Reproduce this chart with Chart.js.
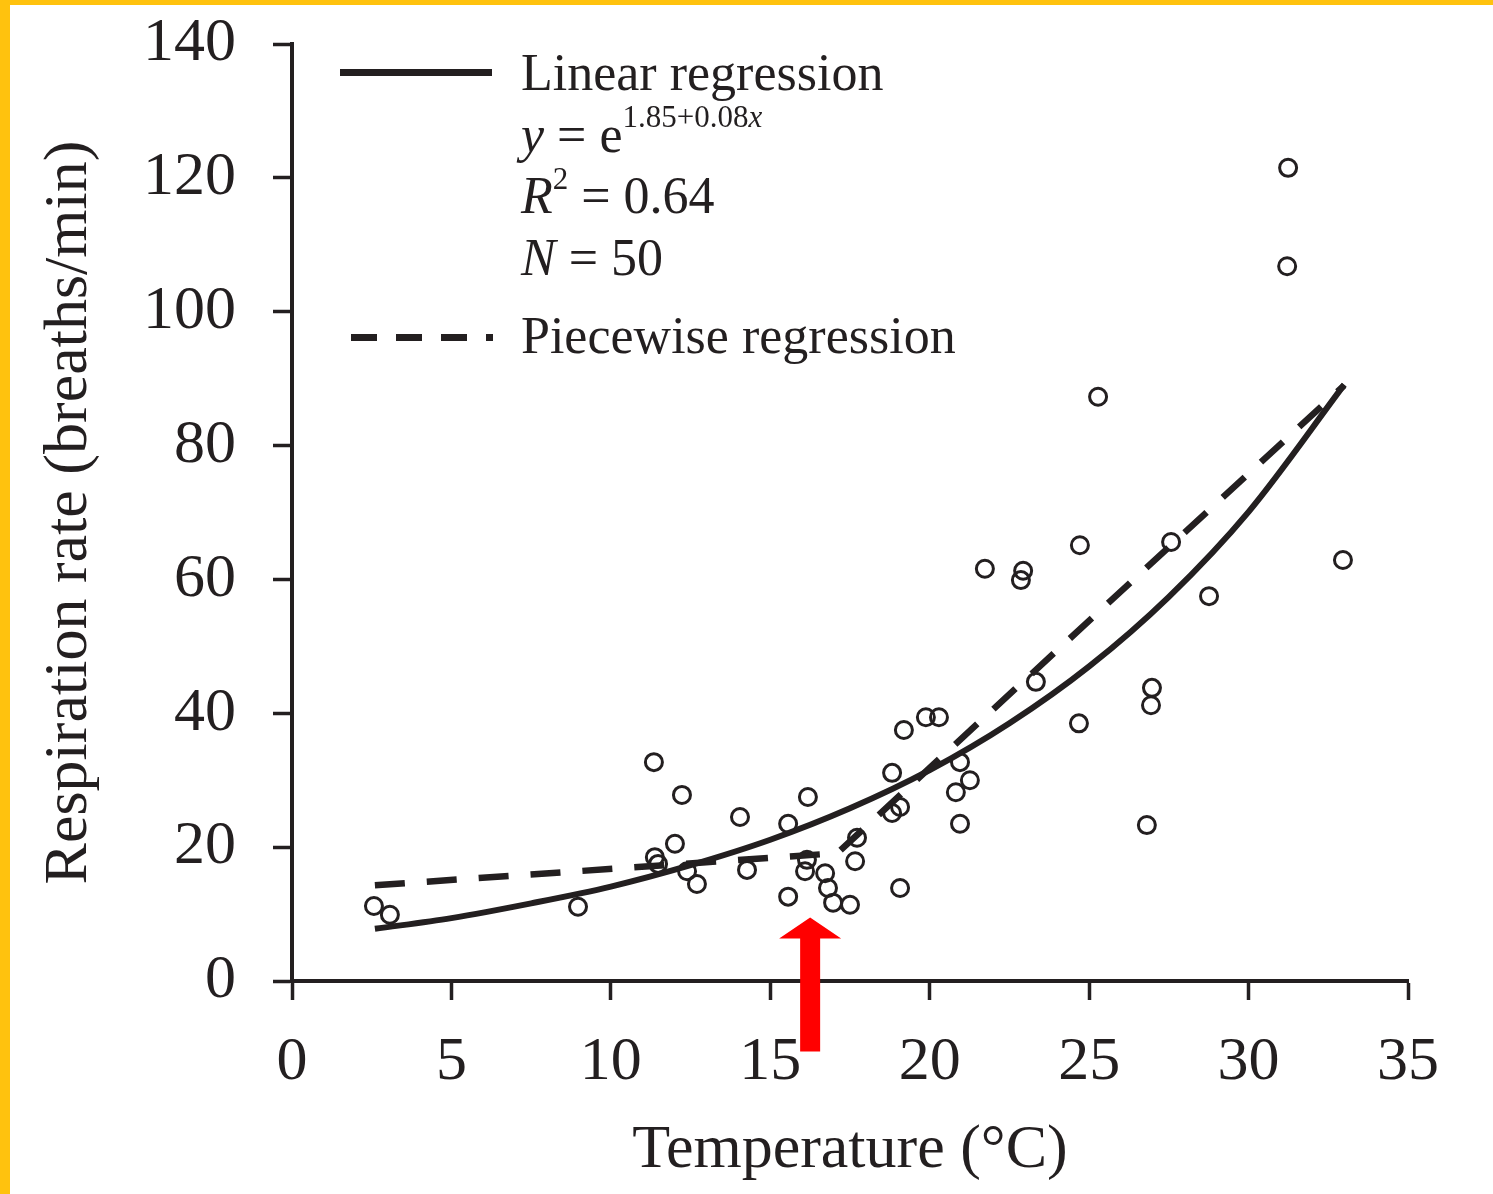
<!DOCTYPE html>
<html>
<head>
<meta charset="utf-8">
<title>Respiration rate vs temperature</title>
<script src="https://cdn.jsdelivr.net/npm/chart.js@4.4.1/dist/chart.umd.min.js"></script>
<style>
  html, body { margin: 0; padding: 0; background: #fff; }
  #wrap { position: relative; width: 1493px; height: 1194px; overflow: hidden; background: #fff; }
  .frameTop { position: absolute; left: 0; top: 0; width: 1493px; height: 5px; background: #FFC20E; }
  .frameLeft { position: absolute; left: 0; top: 0; width: 10px; height: 1194px; background: #FFC20E; }
  #grafico { position: absolute; left: 0; top: 0; }
  .leg { position: absolute; left: 521px; font-family: 'Liberation Serif', 'Times New Roman', serif;
         font-size: 52px; line-height: 1; color: #231f20; white-space: nowrap; }
  .sup { font-size: 31px; position: relative; top: -25px; }
  .sampleSolid { position: absolute; left: 340px; top: 69px; width: 152px; height: 7px; background: #231f20; }
  .sampleDash { position: absolute; left: 351px; top: 334px; width: 142px; height: 7px;
                background: repeating-linear-gradient(to right, #231f20 0 26px, transparent 26px 45px); }
</style>
</head>
<body>
<div id="wrap">
  <div class="frameTop"></div>
  <div class="frameLeft"></div>
  <canvas id="grafico" width="1493" height="1194"></canvas>

  <div class="sampleSolid"></div>
  <div class="leg" style="top:47px;">Linear regression</div>
  <div class="leg" style="top:109px;"><i>y</i> = e<span class="sup">1.85+0.08<i>x</i></span></div>
  <div class="leg" style="top:170px;"><i>R</i><span class="sup" style="top:-24px;">2</span> = 0.64</div>
  <div class="leg" style="top:232px;"><i>N</i> = 50</div>
  <div class="sampleDash"></div>
  <div class="leg" style="top:310px;">Piecewise regression</div>
</div>

<script>
// observed points: temperature (°C) and respiration rate (breaths/min)
const tempObs = [2.57, 3.07, 8.97, 11.35, 11.38, 11.48, 12.01, 12.23, 12.39, 12.70,
                 14.05, 14.27, 15.56, 15.56, 16.18, 16.09, 16.15, 16.72, 16.81, 16.97,
                 17.50, 17.66, 17.72, 18.82, 18.82, 19.07, 19.07, 19.19, 19.88, 20.29,
                 20.82, 20.95, 20.95, 21.26, 21.73, 22.86, 22.93, 23.33, 24.68, 24.71,
                 25.28, 26.81, 26.94, 26.97, 27.57, 28.76, 31.21, 31.24, 32.96];
const respObs = [11.2, 9.9, 11.1, 32.7, 18.5, 17.5, 20.5, 27.8, 16.4, 14.5,
                 24.5, 16.6, 23.5, 12.6, 27.5, 16.4, 18.1, 16.1, 13.9, 11.7,
                 11.4, 17.9, 21.4, 31.1, 25.1, 26.0, 13.9, 37.5, 39.4, 39.4,
                 28.2, 32.7, 23.5, 30.0, 61.6, 59.9, 61.3, 44.7, 38.5, 65.1,
                 87.3, 23.3, 41.2, 43.8, 65.6, 57.5, 106.8, 121.5, 62.9];

// exponential fit
const tempFit = [2.6, 5, 7.5, 10, 12.5, 15, 17.5, 20, 22.5, 25, 27.5, 30, 33];
const respFit = [7.8, 9.4, 11.6, 14.1, 17.3, 21.1, 25.8, 31.5, 38.5, 47.0, 57.4, 70.1, 89.1];

// piecewise fit
const tempPw = [2.6, 17.1, 33];
const respPw = [14.3, 19.1, 89.0];

const xTicks = [0, 5, 10, 15, 20, 25, 30, 35];
const yTicks = [0, 20, 40, 60, 80, 100, 120, 140];

const tinta = '#231f20';
const serif = "'Liberation Serif', 'Times New Roman', serif";

const aPuntos = (xs, ys) => xs.map((x, i) => ({ x: x, y: ys[i] }));

// red arrow pointing at the break point
const flecha = {
  id: 'flecha',
  afterDraw(chart) {
    const { ctx, scales } = chart;
    const cx = scales.x.getPixelForValue(16.25);
    const tip = scales.y.getPixelForValue(9.5);
    ctx.save();
    ctx.fillStyle = '#ff0000';
    ctx.beginPath();
    ctx.moveTo(cx, tip);
    ctx.lineTo(cx + 31, tip + 21);
    ctx.lineTo(cx + 10, tip + 21);
    ctx.lineTo(cx + 10, tip + 134);
    ctx.lineTo(cx - 10, tip + 134);
    ctx.lineTo(cx - 10, tip + 21);
    ctx.lineTo(cx - 31, tip + 21);
    ctx.closePath();
    ctx.fill();
    ctx.restore();
  }
};

new Chart(document.getElementById('grafico').getContext('2d'), {
  type: 'scatter',
  data: {
    datasets: [
      {
        label: 'Observed',
        data: aPuntos(tempObs, respObs),
        pointStyle: 'circle',
        pointRadius: 8.5,
        pointBorderWidth: 3,
        pointBorderColor: tinta,
        pointBackgroundColor: 'rgba(0,0,0,0)',
        showLine: false,
        order: 3
      },
      {
        label: 'Linear regression',
        data: aPuntos(tempFit, respFit),
        showLine: true,
        borderColor: tinta,
        borderWidth: 6,
        pointRadius: 0,
        cubicInterpolationMode: 'monotone',
        order: 1
      },
      {
        label: 'Piecewise regression',
        data: aPuntos(tempPw, respPw),
        showLine: true,
        borderColor: tinta,
        borderWidth: 6.5,
        borderDash: [30, 22],
        pointRadius: 0,
        order: 2
      }
    ]
  },
  options: {
    responsive: false,
    animation: false,
    layout: { padding: { top: 44, right: 85, bottom: 0, left: 0 } },
    plugins: {
      legend: { display: false },
      tooltip: { enabled: false }
    },
    scales: {
      x: {
        type: 'linear',
        min: 0,
        max: 35,
        afterFit: s => { s.height = 213; s.paddingLeft = 0; s.paddingRight = 0; },
        afterBuildTicks: s => { s.ticks = xTicks.map(v => ({ value: v })); },
        grid: { drawOnChartArea: false, drawTicks: true, tickLength: 19, tickWidth: 3.5, tickColor: tinta },
        border: { display: true, color: tinta, width: 4 },
        ticks: { color: tinta, font: { family: serif, size: 62 }, padding: 26, maxRotation: 0 },
        title: { display: true, text: 'Temperature (°C)', color: tinta,
                 font: { family: serif, size: 62 }, padding: { top: 0, bottom: 6 } }
      },
      y: {
        type: 'linear',
        min: 0,
        max: 140,
        afterFit: s => { s.width = 292; s.paddingTop = 0; s.paddingBottom = 0; },
        afterBuildTicks: s => { s.ticks = yTicks.map(v => ({ value: v })); },
        grid: { drawOnChartArea: false, drawTicks: true, tickLength: 19, tickWidth: 3.5, tickColor: tinta },
        border: { display: true, color: tinta, width: 4 },
        ticks: { color: tinta, font: { family: serif, size: 62 }, padding: 37 },
        title: { display: true, text: 'Respiration rate (breaths/min)', color: tinta,
                 font: { family: serif, size: 62 }, padding: { top: 33, bottom: 0 } }
      }
    }
  },
  plugins: [flecha]
});
</script>
</body>
</html>
